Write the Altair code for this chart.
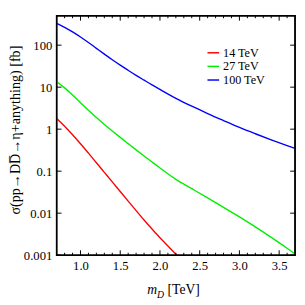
import altair as alt
import pandas as pd

# ---- data ----
m_grid = [0.7, 0.8, 0.9, 1.0, 1.1, 1.2, 1.3, 1.4, 1.5, 1.6, 1.7, 1.8, 1.9, 2.0,
          2.2, 2.4, 2.6, 2.8, 3.0, 3.2, 3.4, 3.6, 3.7]
sigma_100 = [331, 265.5, 206.5, 156.3, 115.3, 83.9, 61.1, 44.9, 33.4, 25.2, 19.1, 14.7,
             11.35, 8.85, 5.43, 3.52, 2.35, 1.60, 1.10, 0.778, 0.558, 0.406, 0.348]
sigma_27 = [13.49, 9.62, 6.50, 4.27, 2.81, 1.89, 1.297, 0.906, 0.638, 0.452, 0.321, 0.2296,
            0.165, 0.119, 0.0637, 0.0384, 0.0231, 0.0138, 0.00813, 0.00470, 0.00265,
            0.00146, 0.00107]
m_14 = [0.7, 0.8, 0.9, 1.0, 1.1, 1.2, 1.3, 1.4, 1.5, 1.6, 1.7, 1.8, 1.9, 2.0, 2.1, 2.2, 2.3]
sigma_14 = [1.80, 1.175, 0.736, 0.449, 0.268, 0.1585, 0.0938, 0.0555, 0.0328, 0.0194,
            0.01148, 0.00686, 0.00418, 0.00261, 0.00165, 0.00105, 0.000673]

series = ["14 TeV", "27 TeV", "100 TeV"]
colors = ["#ff0000", "#00ee00", "#0000ff"]

x_major = [1.0, 1.5, 2.0, 2.5, 3.0, 3.5]
x_minor = [0.7, 0.8, 0.9, 1.1, 1.2, 1.3, 1.4, 1.6, 1.7, 1.8, 1.9, 2.1, 2.2, 2.3, 2.4,
           2.6, 2.7, 2.8, 2.9, 3.1, 3.2, 3.3, 3.4, 3.6]
y_major = [0.001, 0.01, 0.1, 1, 10, 100]

y_title = "σ(pp→DD̅→η+anything) [fb]"
x_title_main = "m"
x_title_sub = "D"
x_title_unit = "[TeV]"

# ---- frames ----
rows = []
for m, s in zip(m_14, sigma_14):
    rows.append({"m": m, "sigma": s, "series": series[0]})
for m, s in zip(m_grid, sigma_27):
    rows.append({"m": m, "sigma": s, "series": series[1]})
for m, s in zip(m_grid, sigma_100):
    rows.append({"m": m, "sigma": s, "series": series[2]})
df = pd.DataFrame(rows)

FONT = "Liberation Serif, Times New Roman, DejaVu Serif, serif"
W, H = 245, 246

xscale = alt.Scale(domain=[0.7, 3.7], nice=False, zero=False)
yscale = alt.Scale(type="log", domain=[0.001, 500], nice=False)

xaxis = alt.Axis(values=x_major, format=".1f", ticks=False, domain=False, grid=False,
                 labelFont=FONT, labelFontSize=13, labelColor="black", labelPadding=5,
                 title=None)
yaxis = alt.Axis(values=y_major, format="~g", ticks=False, domain=False, grid=False,
                 labelFont=FONT, labelFontSize=13, labelColor="black", labelPadding=5,
                 title=y_title, titleFont=FONT, titleFontSize=14.5, titleFontWeight="normal",
                 titleColor="black", titleAngle=270, titleX=-38, titleY=117,
                 titleAlign="center", titleBaseline="alphabetic")

X = lambda: alt.X("m:Q", scale=xscale, axis=xaxis)
Y = lambda: alt.Y("sigma:Q", scale=yscale, axis=yaxis)

lines = alt.Chart(df).mark_line(strokeWidth=1.4, clip=True, interpolate="monotone").encode(
    x=X(), y=Y(),
    color=alt.Color("series:N", scale=alt.Scale(domain=series, range=colors),
                    sort=series,
                    legend=alt.Legend(orient="none", legendX=154, legendY=31, title=None,
                                      symbolType="stroke", symbolStrokeWidth=1.5,
                                      symbolSize=144, labelFont=FONT, labelFontSize=12.5,
                                      labelColor="black", rowPadding=0, padding=0,
                                      labelOffset=3)),
    detail="series:N",
)

dfxM = pd.DataFrame({"m": x_major})
dfxm = pd.DataFrame({"m": x_minor})
dfy = pd.DataFrame({"sigma": y_major})

tick_layers = []
for d, L in ((dfxM, 5), (dfxm, 2.5)):
    tick_layers.append(alt.Chart(d).mark_rule(color="black", strokeWidth=1).encode(
        x=X(), y=alt.value(H), y2=alt.value(H - L)))
    tick_layers.append(alt.Chart(d).mark_rule(color="black", strokeWidth=1).encode(
        x=X(), y=alt.value(0), y2=alt.value(L)))
tick_layers.append(alt.Chart(dfy).mark_rule(color="black", strokeWidth=1).encode(
    y=Y(), x=alt.value(0), x2=alt.value(5)))
tick_layers.append(alt.Chart(dfy).mark_rule(color="black", strokeWidth=1).encode(
    y=Y(), x=alt.value(W), x2=alt.value(W - 5)))

one = pd.DataFrame({"k": [0]})
frame = alt.Chart(one).mark_rect(fill=None, fillOpacity=0, stroke="black", strokeWidth=1.5).encode(
    x=alt.value(0), x2=alt.value(W), y=alt.value(0), y2=alt.value(H))
t_m = alt.Chart(one).mark_text(font=FONT, fontSize=14, fontStyle="italic", align="left",
                               baseline="alphabetic", color="black").encode(
    x=alt.value(93), y=alt.value(286), text=alt.value(x_title_main))
t_d = alt.Chart(one).mark_text(font=FONT, fontSize=10, fontStyle="italic", align="left",
                               baseline="alphabetic", color="black").encode(
    x=alt.value(103), y=alt.value(289.5), text=alt.value(x_title_sub))
t_u = alt.Chart(one).mark_text(font=FONT, fontSize=14, align="left",
                               baseline="alphabetic", color="black").encode(
    x=alt.value(114), y=alt.value(286), text=alt.value(x_title_unit))

chart = alt.layer(lines, *tick_layers, frame, t_m, t_d, t_u).properties(
    width=W, height=H,
    background="white",
    autosize=alt.AutoSizeParams(type="none"),
    padding={"left": 50, "top": 4, "right": 2, "bottom": 40},
).configure_view(stroke="black", strokeWidth=1.5)

chart.save("out.html", embed_options={"renderer": "svg", "actions": False})
